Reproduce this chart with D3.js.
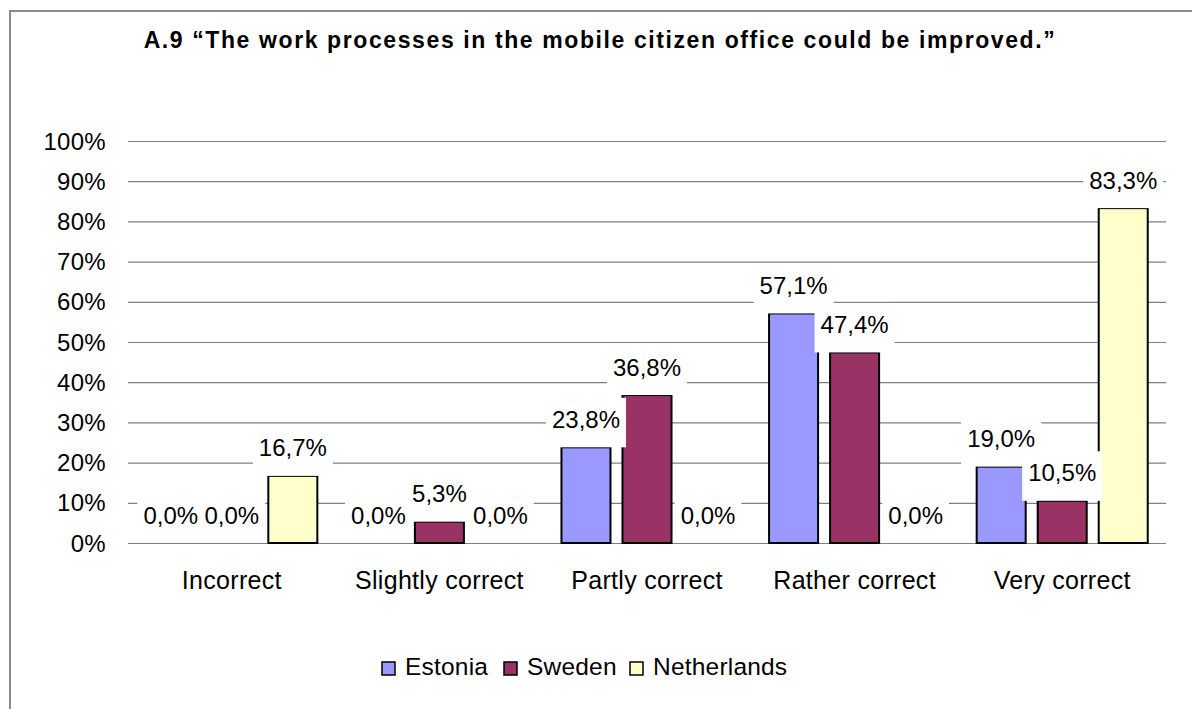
<!DOCTYPE html>
<html>
<head>
<meta charset="utf-8">
<script src="https://cdn.jsdelivr.net/npm/d3@7"></script>
<style>
  html, body { margin: 0; padding: 0; background: #fff; }
  svg { display: block; font-family: "Liberation Sans", Arial, sans-serif; }
</style>
</head>
<body>
<svg id="chart" width="1192" height="709"></svg>
<script>
// Survey answers per country, share of respondents
const categories = ["Incorrect", "Slightly correct", "Partly correct", "Rather correct", "Very correct"];
const seriesNames = ["Estonia", "Sweden", "Netherlands"];
const estonia = [0.0, 0.0, 23.8, 57.1, 19.0];
const sweden = [0.0, 5.3, 36.8, 47.4, 10.5];
const netherlands = [16.7, 0.0, 0.0, 0.0, 83.3];
const yTicks = [0, 10, 20, 30, 40, 50, 60, 70, 80, 90, 100];
const titleText = "A.9 \u201CThe work processes in the mobile citizen office could be improved.\u201D";

const seriesValues = [estonia, sweden, netherlands];
const colors = ["#9999FF", "#993366", "#FFFFCC"];

const svg = d3.select("#chart");

// Outer chart frame (top and left edges visible)
svg.append("rect")
  .attr("x", 10).attr("y", 11)
  .attr("width", 1200).attr("height", 720)
  .attr("fill", "none")
  .attr("stroke", "#8a8a8a")
  .attr("stroke-width", 2);

svg.append("text")
  .attr("x", 600).attr("y", 48)
  .attr("text-anchor", "middle")
  .attr("font-size", 23)
  .attr("letter-spacing", 1.6)
  .attr("font-weight", "bold")
  .text(titleText);

const plot = { left: 128, right: 1166, top: 141, bottom: 543 };

const y = d3.scaleLinear().domain([0, 100]).range([plot.bottom, plot.top]);
const x0 = d3.scaleBand().domain(categories).range([plot.left, plot.right]).paddingInner(0).paddingOuter(0);
const groupW = x0.bandwidth() * 0.824;
const groupOff = (x0.bandwidth() - groupW) / 2;
const x1 = d3.scaleBand().domain(seriesNames).range([groupOff, groupOff + groupW]).paddingInner(12 / 61).paddingOuter(0);

// Gridlines
const grid = svg.append("g")
  .attr("transform", `translate(${plot.left},0)`)
  .call(d3.axisLeft(y).tickValues(yTicks).tickSize(-(plot.right - plot.left)).tickFormat(""));
grid.select(".domain").remove();
grid.selectAll("line").attr("stroke", "#808080").attr("stroke-width", 1.2);

// Y tick labels
svg.append("g").selectAll("text")
  .data(yTicks)
  .join("text")
  .attr("x", 106)
  .attr("y", d => y(d))
  .attr("dy", "0.36em")
  .attr("text-anchor", "end")
  .attr("font-size", 24)
  .attr("letter-spacing", 0.3)
  .text(d => d + "%");

// Bars
const records = [];
seriesNames.forEach((s, si) => {
  categories.forEach((c, ci) => {
    records.push({ series: s, si, cat: c, v: seriesValues[si][ci] });
  });
});

svg.append("g").selectAll("rect")
  .data(records.filter(d => d.v > 0))
  .join("rect")
  .attr("x", d => x0(d.cat) + x1(d.series))
  .attr("y", d => y(d.v))
  .attr("width", x1.bandwidth())
  .attr("height", d => y(0) - y(d.v))
  .attr("fill", d => colors[d.si])
  .attr("stroke", "#000")
  .attr("stroke-width", 2);

// Value labels on white boxes
const fmt = v => v.toFixed(1).replace(".", ",") + "%";
const labels = svg.append("g").selectAll("g")
  .data(records)
  .join("g")
  .attr("transform", d => `translate(${x0(d.cat) + x1(d.series) + x1.bandwidth() / 2},${y(d.v) - 19.5})`);

labels.append("rect").attr("fill", "#fff");
labels.append("text")
  .attr("text-anchor", "middle")
  .attr("font-size", 24)
  .text(d => fmt(d.v));
labels.each(function () {
  const g = d3.select(this);
  const w = g.select("text").node().getComputedTextLength();
  g.select("rect")
    .attr("x", -w / 2 - 6)
    .attr("y", -30)
    .attr("width", w + 12)
    .attr("height", 49.5);
});

// Category labels
svg.append("g").selectAll("text")
  .data(categories)
  .join("text")
  .attr("x", d => x0(d) + x0.bandwidth() / 2)
  .attr("y", 589)
  .attr("text-anchor", "middle")
  .attr("font-size", 25)
  .attr("letter-spacing", 0.3)
  .text(d => d);

// Legend
const legend = svg.append("g");
const legendX = [382, 504, 630];
const lg = legend.selectAll("g")
  .data(seriesNames)
  .join("g")
  .attr("transform", (d, i) => `translate(${legendX[i]},662)`);
lg.append("rect")
  .attr("width", 13).attr("height", 13)
  .attr("fill", (d, i) => colors[i])
  .attr("stroke", "#000")
  .attr("stroke-width", 1.5);
lg.append("text")
  .attr("x", 23).attr("y", 13)
  .attr("font-size", 24.5)
  .attr("letter-spacing", 0.2)
  .text(d => d);
</script>
</body>
</html>
